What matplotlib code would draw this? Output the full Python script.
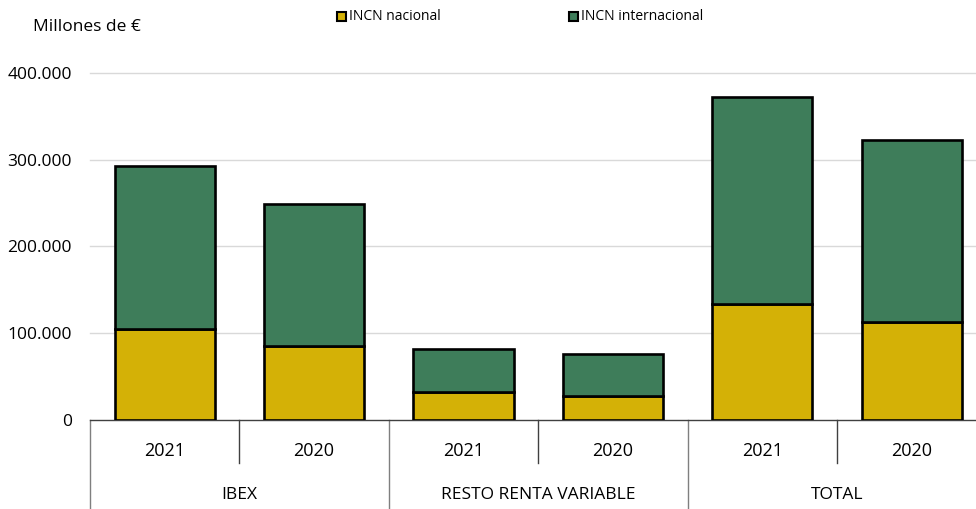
import matplotlib
matplotlib.use("Agg")
import matplotlib.pyplot as plt
from matplotlib.patches import Rectangle
from matplotlib.ticker import FuncFormatter
import matplotlib.transforms as mtransforms

plt.rcParams['font.family'] = ['Open Sans', 'DejaVu Sans']

groups = ["IBEX", "RESTO RENTA VARIABLE", "TOTAL"]
years = ["2021", "2020", "2021", "2020", "2021", "2020"]
nacional = [105000, 85000, 32000, 28000, 134000, 113000]
internacional = [188000, 164000, 50000, 48000, 238000, 210000]
yticks = [0, 100000, 200000, 300000, 400000]

c_nac = "#D4B106"
c_int = "#3E7D5A"

W, H = 976, 509
fig = plt.figure(figsize=(W/100, H/100), dpi=100)
ax_left, ax_right, ax_top, ax_bot = 90, 976, 73, 420
ax = fig.add_axes([ax_left/W, 1 - ax_bot/H, (ax_right-ax_left)/W, (ax_bot-ax_top)/H])

x = list(range(len(years)))
bw = 0.67
ax.bar(x, nacional, width=bw, color=c_nac, edgecolor="black", linewidth=1.9, zorder=3)
ax.bar(x, internacional, bottom=nacional, width=bw, color=c_int, edgecolor="black", linewidth=1.9, zorder=3)

ax.set_xlim(-0.5, 5.43)
ax.set_ylim(0, 400000)
ax.set_yticks(yticks)
ax.yaxis.set_major_formatter(FuncFormatter(lambda v, p: f"{int(v):,}".replace(",", ".")))
ax.tick_params(axis='y', length=0, pad=13, labelsize=12.5)
ax.set_xticks([])
for v in yticks[1:]:
    ax.axhline(v, color="#d9d9d9", linewidth=1, zorder=1, clip_on=False)
for s in ["top", "right", "left"]:
    ax.spines[s].set_visible(False)
ax.spines["bottom"].set_color("#404040")
ax.spines["bottom"].set_linewidth(1)

trans = mtransforms.blended_transform_factory(ax.transData, ax.transAxes)
h = ax_bot - ax_top
y_year_sep = -(463 - ax_bot) / h
y_bottom = -(509 - ax_bot) / h
y_year_lbl = -(451 - ax_bot) / h
y_grp_lbl = -(495 - ax_bot) / h

for i, yr in enumerate(years):
    ax.text(i, y_year_lbl, yr, transform=trans, ha="center", va="center", fontsize=13)
for i in range(len(years)):
    xs = i - 0.5
    if i % 2 == 0:
        ax.plot([xs, xs], [0, y_bottom], transform=trans, color="#7f7f7f", lw=1, clip_on=False)
    else:
        ax.plot([xs, xs], [0, y_year_sep], transform=trans, color="#404040", lw=1, clip_on=False)
for g, name in enumerate(groups):
    ax.text(2*g + 0.5, y_grp_lbl, name, transform=trans, ha="center", va="center", fontsize=12.5)

fig.text(33/W, 1 - 27/H, "Millones de €", ha="left", va="center", fontsize=12.5)

for sx, label, col in [(337, "INCN nacional", c_nac), (569, "INCN internacional", c_int)]:
    fig.patches.append(Rectangle((sx/W, 1 - 21/H), 9/W, 9/H, transform=fig.transFigure,
                                 facecolor=col, edgecolor="black", linewidth=1.5))
    fig.text((sx + 12)/W, 1 - 16/H, label, ha="left", va="center", fontsize=10)

fig.savefig("out.png", dpi=100)
